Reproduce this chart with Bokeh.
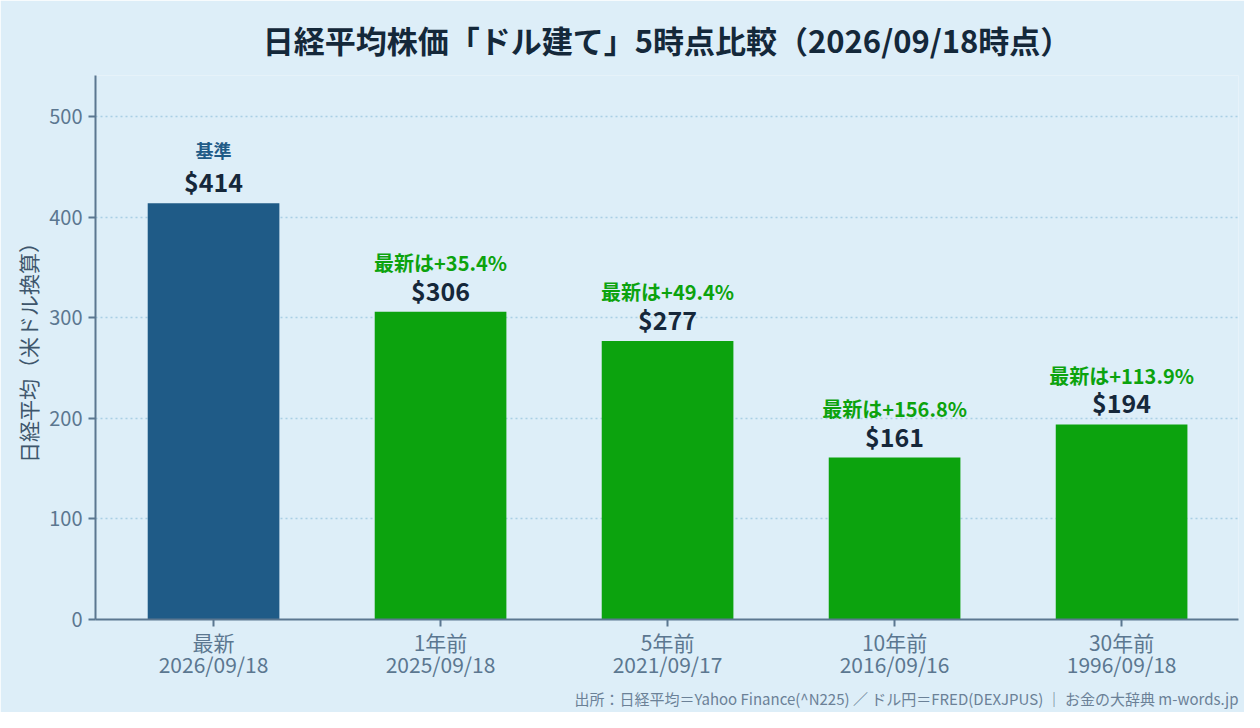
from bokeh.plotting import figure
from bokeh.models import ColumnDataSource, LabelSet, Label, Title, FixedTicker
from bokeh.core.properties import value
from bokeh.embed import file_html
from bokeh.resources import INLINE

FONT = "Noto Sans CJK JP"

# data
periods = ["最新", "1年前", "5年前", "10年前", "30年前"]
dates = ["2026/09/18", "2025/09/18", "2021/09/17", "2016/09/16", "1996/09/18"]
usd_values = [414, 306, 277, 161, 194]
value_labels = ["$414", "$306", "$277", "$161", "$194"]
change_labels = ["基準", "最新は+35.4%", "最新は+49.4%", "最新は+156.8%", "最新は+113.9%"]

base_color = "#1f5b87"
up_color = "#0ca30e"

xs = list(range(len(periods)))
colors = [base_color] + [up_color] * (len(periods) - 1)

source = ColumnDataSource(dict(
    x=xs,
    top=usd_values,
    color=colors,
    value_label=value_labels,
))
change_source = ColumnDataSource(dict(
    x=xs[1:],
    top=usd_values[1:],
    change_label=change_labels[1:],
))

p = figure(
    width=1244,
    height=712,
    x_range=(-0.52, 4.515),
    y_range=(0, 541),
    output_backend="svg",
    toolbar_location=None,
    background_fill_color="#ddeef8",
    border_fill_color="#ddeef8",
    min_border_left=95,
    min_border_right=6,
    min_border_top=75,
    min_border_bottom=93,
)
p.outline_line_color = None

p.title.text = "日経平均株価「ドル建て」5時点比較（2026/09/18時点）"
p.title.text_font = FONT
p.title.text_font_size = "31px"
p.title.text_font_style = "bold"
p.title.text_color = "#14283a"
p.title.align = "center"
p.title.offset = -6
p.title.standoff = 27

p.vbar(x="x", top="top", width=0.58, source=source, fill_color="color", line_color=None)

p.add_layout(LabelSet(x="x", y="top", text="value_label", source=source,
                      text_align="center", text_baseline="middle", y_offset=22,
                      text_font=value(FONT), text_font_size="25px", text_font_style="bold",
                      text_color="#15273a"))
p.add_layout(LabelSet(x="x", y="top", text="change_label", source=change_source,
                      text_align="center", text_baseline="middle", y_offset=49,
                      text_font=value(FONT), text_font_size="20px", text_font_style="bold",
                      text_color=up_color))
p.add_layout(Label(x=xs[0], y=usd_values[0], text=change_labels[0],
                   text_align="center", text_baseline="middle", y_offset=53,
                   text_font=FONT, text_font_size="18px", text_font_style="bold",
                   text_color=base_color))

# axes
axis_color = "#5b7790"
for ax in (p.xaxis[0], p.yaxis[0]):
    ax.axis_line_color = axis_color
    ax.axis_line_width = 2
    ax.major_tick_line_color = axis_color
    ax.major_tick_line_width = 2
    ax.major_tick_out = 7
    ax.major_tick_in = 0
    ax.minor_tick_line_color = None
    ax.major_label_text_font = FONT
    ax.major_label_text_color = "#5b7790"

p.xaxis.ticker = FixedTicker(ticks=xs)
p.xaxis.major_label_overrides = {i: f"{periods[i]}\n{dates[i]}" for i in xs}
p.xaxis.major_label_text_font_size = "21px"
p.xaxis.major_label_standoff = 0
p.xaxis.major_label_text_line_height = 0.75
p.yaxis.ticker = FixedTicker(ticks=[0, 100, 200, 300, 400, 500])
p.yaxis.major_label_text_font_size = "20px"
p.yaxis.major_label_standoff = 6
p.yaxis.axis_label = "日経平均（米ドル換算）"
p.yaxis.axis_label_text_font = FONT
p.yaxis.axis_label_text_font_size = "21px"
p.yaxis.axis_label_text_font_style = "normal"
p.yaxis.axis_label_text_color = "#3e566c"
p.yaxis.axis_label_standoff = 3

p.xgrid.grid_line_color = None
p.ygrid.grid_line_color = "#a9cfe4"
p.ygrid.grid_line_dash = "2 3"
p.ygrid.grid_line_width = 1.5

footer = Title(text="出所：日経平均＝Yahoo Finance(^N225) ／ ドル円＝FRED(DEXJPUS) ｜ お金の大辞典 m-words.jp",
               align="right", text_font=FONT, text_font_size="15px",
               text_font_style="normal", text_color="#6b8197", standoff=6)
p.add_layout(footer, "below")

open("out.html", "w").write(file_html(p, INLINE))
